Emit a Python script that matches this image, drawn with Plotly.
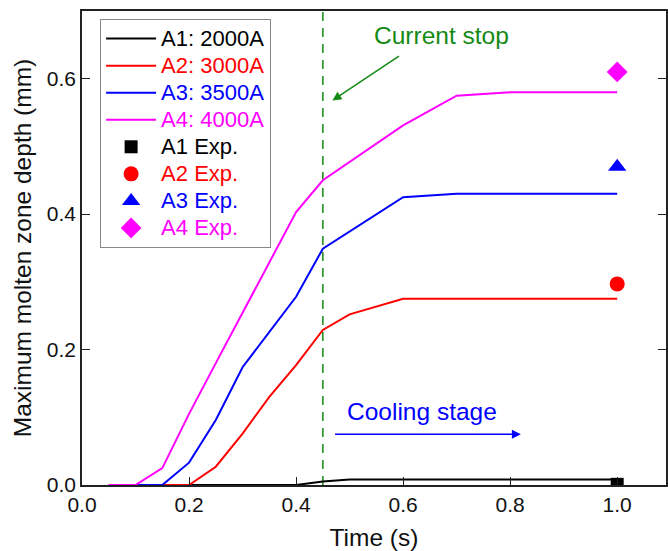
import plotly.graph_objects as go

# Simulated maximum molten zone depth vs. time for each current
time_a1 = [0.05, 0.1, 0.15, 0.2, 0.25, 0.3, 0.35, 0.4, 0.45, 0.5, 0.6, 0.7, 0.8, 0.9, 1.0]
depth_a1 = [0.0, 0.0, 0.0, 0.0, 0.0, 0.0, 0.0, 0.0, 0.005, 0.008, 0.008, 0.008, 0.008, 0.008, 0.008]

time_a2 = [0.15, 0.2, 0.25, 0.3, 0.35, 0.4, 0.45, 0.5, 0.6, 0.7, 0.8, 0.9, 1.0]
depth_a2 = [0.0, 0.0, 0.027, 0.076, 0.130, 0.177, 0.229, 0.252, 0.275, 0.275, 0.275, 0.275, 0.275]

time_a3 = [0.1, 0.15, 0.2, 0.25, 0.3, 0.35, 0.4, 0.45, 0.6, 0.7, 0.8, 0.9, 1.0]
depth_a3 = [0.0, 0.0, 0.033, 0.096, 0.174, 0.226, 0.278, 0.349, 0.425, 0.430, 0.430, 0.430, 0.430]

time_a4 = [0.05, 0.1, 0.15, 0.2, 0.25, 0.3, 0.35, 0.4, 0.45, 0.6, 0.7, 0.8, 0.9, 1.0]
depth_a4 = [0.0, 0.0, 0.025, 0.105, 0.180, 0.255, 0.330, 0.403, 0.450, 0.531, 0.575, 0.580, 0.580, 0.580]

# Experimental measurements at t = 1.0 s
exp_time = [1.0]
exp_a1 = [0.001]
exp_a2 = [0.297]
exp_a3 = [0.470]
exp_a4 = [0.610]

current_stop_time = 0.45

sim_labels = ["A1: 2000A", "A2: 3000A", "A3: 3500A", "A4: 4000A"]
exp_labels = ["A1 Exp.", "A2 Exp.", "A3 Exp.", "A4 Exp."]
colors = ["#000000", "#ff0000", "#0000ff", "#ff00ff"]
symbols = ["square", "circle", "triangle-up", "diamond"]
marker_sizes = [13, 15, 16, 16]

sim_series = [(time_a1, depth_a1), (time_a2, depth_a2), (time_a3, depth_a3), (time_a4, depth_a4)]
exp_series = [exp_a1, exp_a2, exp_a3, exp_a4]


def legend_label(text, color):
    # Legend rows keep a compact line height while the label glyphs are drawn at 22px
    return f'<span style="color:{color};font-size:22px">{text}</span>'


fig = go.Figure()

for (t, d), name, c in zip(sim_series, sim_labels, colors):
    fig.add_trace(go.Scatter(
        x=t, y=d, mode="lines", line=dict(color=c, width=2),
        name=legend_label(name, c),
    ))

for d, name, c, s, ms in zip(exp_series, exp_labels, colors, symbols, marker_sizes):
    fig.add_trace(go.Scatter(
        x=exp_time, y=d, mode="markers",
        marker=dict(color=c, symbol=s, size=ms, line=dict(width=0)),
        name=legend_label(name, c),
        cliponaxis=True,
    ))

green = "#138a13"

fig.add_shape(type="line", xref="x", yref="y",
              x0=current_stop_time, x1=current_stop_time, y0=0, y1=0.7,
              line=dict(color=green, width=1.5, dash="9px,7px"), layer="below")

fig.add_annotation(x=0.672, y=0.664, xref="x", yref="y", text="Current stop",
                   showarrow=False, font=dict(color=green, size=24.5))
fig.add_annotation(x=0.468, y=0.568, ax=0.595, ay=0.635, xref="x", yref="y",
                   axref="x", ayref="y", text="", showarrow=True,
                   arrowhead=2, arrowsize=1.2, arrowwidth=1.5, arrowcolor=green)

fig.add_annotation(x=0.636, y=0.108, xref="x", yref="y", text="Cooling stage",
                   showarrow=False, font=dict(color="#0000ff", size=24.5))
fig.add_annotation(x=0.82, y=0.0748, ax=0.47, ay=0.0748, xref="x", yref="y",
                   axref="x", ayref="y", text="", showarrow=True,
                   arrowhead=2, arrowsize=1.2, arrowwidth=1.5, arrowcolor="#0000ff")

axis_common = dict(
    showline=True, linecolor="#222222", linewidth=1.5,
    ticks="inside", ticklen=8, tickwidth=1.2, tickcolor="#222222",
    showgrid=False, zeroline=False,
    tickfont=dict(size=21, color="#111111"),
)

fig.update_xaxes(range=[0, 1.0912], tickvals=[0.0, 0.2, 0.4, 0.6, 0.8, 1.0],
                 ticktext=["0.0", "0.2", "0.4", "0.6", "0.8", "1.0"], mirror=True,
                 title=dict(text="Time (s)", font=dict(size=24.5, color="#111111"), standoff=16),
                 **axis_common)
fig.update_yaxes(range=[0, 0.7], tickvals=[0.0, 0.2, 0.4, 0.6],
                 ticktext=["0.0", "0.2", "0.4", "0.6"], mirror="ticks",
                 title=dict(text="Maximum molten zone depth (mm)", font=dict(size=24.5, color="#111111"), standoff=8),
                 **axis_common)

fig.update_layout(
    width=668, height=551,
    margin=dict(l=82, r=0, t=11, b=66),
    paper_bgcolor="white", plot_bgcolor="white",
    font=dict(family="Liberation Sans, Arial, sans-serif"),
    legend=dict(x=0.031, y=0.983, xanchor="left", yanchor="top",
                bgcolor="white", bordercolor="#888888", borderwidth=1,
                font=dict(size=18.5), tracegroupgap=0, itemwidth=50),
    showlegend=True,
)

fig.write_html("out.html")
